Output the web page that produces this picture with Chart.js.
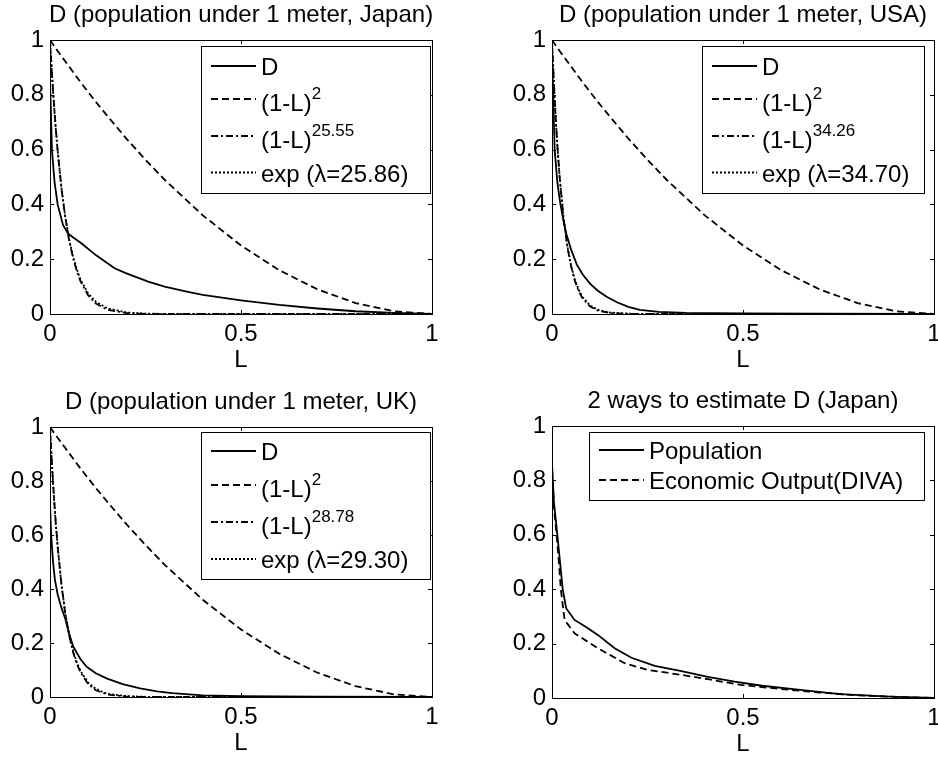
<!DOCTYPE html>
<html>
<head>
<meta charset="utf-8">
<script src="https://cdn.jsdelivr.net/npm/chart.js@4.4.0/dist/chart.umd.min.js"></script>
<style>
  html, body { margin: 0; padding: 0; background: #fff; }
  body { width: 938px; height: 759px; position: relative; overflow: hidden; }
  .panel { position: absolute; }
</style>
</head>
<body>
<div class="panel" style="left:0;top:0;width:469px;height:380px"><canvas id="jp"></canvas></div>
<div class="panel" style="left:469px;top:0;width:469px;height:380px"><canvas id="us"></canvas></div>
<div class="panel" style="left:0;top:380px;width:469px;height:379px"><canvas id="uk"></canvas></div>
<div class="panel" style="left:469px;top:380px;width:469px;height:379px"><canvas id="cmp"></canvas></div>
<script>
// ticks
const xTicks = [0, 0.5, 1];
const xTickLabels = ['0', '0.5', '1'];
const yTicks = [0, 0.2, 0.4, 0.6, 0.8, 1];
const yTickLabels = ['0', '0.2', '0.4', '0.6', '0.8', '1'];

// L values where the fitted curves were read
const fitL = [0, 0.005, 0.01, 0.015, 0.02, 0.03, 0.04, 0.05, 0.06, 0.07, 0.08, 0.1, 0.12, 0.15, 0.2, 0.25, 0.3, 0.4, 0.5, 0.6, 0.7, 0.8, 0.9, 1];
const quadD = [1, 0.99, 0.98, 0.97, 0.96, 0.941, 0.922, 0.903, 0.884, 0.865, 0.846, 0.81, 0.774, 0.723, 0.64, 0.563, 0.49, 0.36, 0.25, 0.16, 0.09, 0.04, 0.01, 0];
const jpPow = [1, 0.88, 0.774, 0.68, 0.597, 0.459, 0.352, 0.27, 0.206, 0.157, 0.119, 0.068, 0.038, 0.016, 0.0033, 0.0006, 0.0001, 0, 0, 0, 0, 0, 0, 0];
const jpExp = [1, 0.879, 0.772, 0.678, 0.596, 0.46, 0.355, 0.274, 0.212, 0.164, 0.126, 0.075, 0.045, 0.021, 0.0057, 0.0016, 0.0004, 0, 0, 0, 0, 0, 0, 0];
const usPow = [1, 0.842, 0.709, 0.596, 0.5, 0.352, 0.247, 0.173, 0.12, 0.083, 0.057, 0.027, 0.0125, 0.0038, 0.0005, 0.0001, 0, 0, 0, 0, 0, 0, 0, 0];
const usExp = [1, 0.841, 0.707, 0.594, 0.5, 0.353, 0.25, 0.176, 0.125, 0.088, 0.062, 0.031, 0.0156, 0.0055, 0.001, 0.0002, 0, 0, 0, 0, 0, 0, 0, 0];
const ukPow = [1, 0.866, 0.749, 0.647, 0.559, 0.416, 0.309, 0.228, 0.168, 0.124, 0.091, 0.048, 0.025, 0.0093, 0.0016, 0.0003, 0, 0, 0, 0, 0, 0, 0, 0];
const ukExp = [1, 0.864, 0.746, 0.644, 0.557, 0.415, 0.31, 0.231, 0.172, 0.129, 0.096, 0.053, 0.03, 0.012, 0.0029, 0.0007, 0.0002, 0, 0, 0, 0, 0, 0, 0];

// measured D curves
const jpL = [0, 0.005, 0.012, 0.02, 0.034, 0.047, 0.06, 0.082, 0.12, 0.169, 0.2, 0.257, 0.3, 0.361, 0.4, 0.5, 0.6, 0.7, 0.8, 0.9, 1];
const jpD = [0.86, 0.6, 0.48, 0.4, 0.325, 0.294, 0.28, 0.258, 0.215, 0.167, 0.148, 0.118, 0.1, 0.081, 0.07, 0.05, 0.033, 0.02, 0.01, 0.004, 0];
const usL = [0, 0.003, 0.007, 0.014, 0.021, 0.03, 0.038, 0.05, 0.065, 0.08, 0.1, 0.12, 0.143, 0.17, 0.2, 0.23, 0.28, 0.35, 0.5, 0.7, 1];
const usD = [0.95, 0.8, 0.6, 0.48, 0.41, 0.34, 0.29, 0.235, 0.18, 0.145, 0.11, 0.085, 0.063, 0.043, 0.026, 0.015, 0.008, 0.004, 0.002, 0.001, 0];
const ukL = [0, 0.003, 0.008, 0.013, 0.02, 0.03, 0.04, 0.05, 0.061, 0.08, 0.096, 0.12, 0.148, 0.19, 0.236, 0.28, 0.32, 0.4, 0.5, 0.7, 1];
const ukD = [0.72, 0.6, 0.5, 0.433, 0.38, 0.33, 0.29, 0.235, 0.186, 0.14, 0.112, 0.088, 0.069, 0.048, 0.032, 0.021, 0.014, 0.006, 0.003, 0.001, 0];
const popL = [0, 0.005, 0.014, 0.021, 0.028, 0.037, 0.059, 0.09, 0.12, 0.164, 0.208, 0.269, 0.339, 0.408, 0.478, 0.55, 0.65, 0.754, 0.885, 1];
const popD = [0.86, 0.72, 0.6, 0.5, 0.4, 0.33, 0.287, 0.26, 0.232, 0.183, 0.148, 0.118, 0.099, 0.078, 0.06, 0.045, 0.03, 0.014, 0.005, 0];
const econL = [0, 0.005, 0.012, 0.018, 0.023, 0.033, 0.059, 0.09, 0.12, 0.19, 0.251, 0.339, 0.408, 0.495, 0.6, 0.7, 0.8, 0.9, 1];
const econD = [0.84, 0.7, 0.6, 0.5, 0.4, 0.287, 0.238, 0.21, 0.183, 0.128, 0.103, 0.085, 0.069, 0.048, 0.033, 0.02, 0.01, 0.004, 0];

const FONT = '"Liberation Sans", Arial, Helvetica, sans-serif';
const LW = 1.8;
const SOLID = [], DASH = [7, 4], DASHDOT = [7, 3, 2, 3], DOT = [2, 2];

function pts(xs, ys) { return xs.map((x, i) => ({ x: x, y: ys[i] })); }

function line(label, xs, ys, dash) {
  return {
    label: label, data: pts(xs, ys), showLine: true, borderColor: '#000',
    borderWidth: LW, borderDash: dash, pointRadius: 0, fill: false, tension: 0
  };
}

// frame, inward ticks, title, x label and legend like the original figure
const matlabAxes = {
  id: 'matlabAxes',
  afterDraw(chart, args, opts) {
    const { ctx, chartArea: a } = chart;
    const xs = chart.scales.x, ys = chart.scales.y;
    ctx.save();
    ctx.strokeStyle = '#000';
    ctx.lineWidth = 1;
    ctx.setLineDash([]);
    ctx.strokeRect(a.left + 0.5, a.top + 0.5, a.right - a.left, a.bottom - a.top);
    ctx.beginPath();
    xTicks.forEach(v => {
      const p = Math.round(xs.getPixelForValue(v)) + 0.5;
      ctx.moveTo(p, a.bottom); ctx.lineTo(p, a.bottom - 4);
      ctx.moveTo(p, a.top); ctx.lineTo(p, a.top + 4);
    });
    yTicks.forEach(v => {
      const p = Math.round(ys.getPixelForValue(v)) + 0.5;
      ctx.moveTo(a.left, p); ctx.lineTo(a.left + 4, p);
      ctx.moveTo(a.right, p); ctx.lineTo(a.right - 4, p);
    });
    ctx.stroke();

    ctx.fillStyle = '#000';
    ctx.font = '24px ' + FONT;
    ctx.textAlign = 'center';
    ctx.textBaseline = 'alphabetic';
    const cx = (a.left + a.right) / 2;
    ctx.fillText(opts.title, cx, a.top - 18);
    ctx.fillText('L', cx, a.bottom + 53);

    // legend
    const lg = opts.legend;
    const bx = a.left + lg.left, by = a.top + lg.top;
    ctx.fillStyle = '#fff';
    ctx.fillRect(bx, by, lg.width, lg.height);
    ctx.strokeRect(bx + 0.5, by + 0.5, lg.width, lg.height);
    chart.data.datasets.forEach((ds, i) => {
      const ry = by + lg.rows[i];
      ctx.lineWidth = LW;
      ctx.setLineDash(ds.borderDash);
      ctx.beginPath();
      ctx.moveTo(bx + 10, ry); ctx.lineTo(bx + 55, ry);
      ctx.stroke();
      ctx.setLineDash([]);
      const parts = ds.label.split('^');
      const ty = ry + (parts.length > 1 ? 12 : lg.dy);
      ctx.fillStyle = '#000';
      ctx.textAlign = 'left';
      ctx.font = '24px ' + FONT;
      ctx.fillText(parts[0], bx + 60, ty);
      if (parts.length > 1) {
        const w = ctx.measureText(parts[0]).width;
        ctx.font = '17px ' + FONT;
        ctx.fillText(parts[1], bx + 60 + w, ty - 12);
      }
    });
    ctx.restore();
  }
};

function scales(axisW, axisH) {
  const tickFont = { family: FONT, size: 24 };
  return {
    x: {
      type: 'linear', min: 0, max: 1,
      afterBuildTicks: s => { s.ticks = xTicks.map(v => ({ value: v })); },
      afterFit: s => { s.height = axisH; s.paddingLeft = 0; s.paddingRight = 0; },
      grid: { display: false, drawTicks: false },
      border: { display: false },
      ticks: { padding: 6, color: '#000', font: tickFont, autoSkip: false, maxRotation: 0,
        callback: (v, i) => xTickLabels[i] }
    },
    y: {
      type: 'linear', min: 0, max: 1,
      afterBuildTicks: s => { s.ticks = yTicks.map(v => ({ value: v })); },
      afterFit: s => { s.width = axisW; s.paddingTop = 0; s.paddingBottom = 0; },
      grid: { display: false, drawTicks: false },
      border: { display: false },
      ticks: { padding: 6, color: '#000', font: tickFont, autoSkip: false,
        callback: (v, i) => yTickLabels[i] }
    }
  };
}

function makeChart(id, datasets, box, title, legend) {
  new Chart(document.getElementById(id), {
    type: 'scatter',
    data: { datasets: datasets },
    options: {
      responsive: true,
      maintainAspectRatio: false,
      animation: false,
      devicePixelRatio: 1,
      layout: { padding: { left: 0, bottom: 0, top: box.top, right: box.right } },
      scales: scales(box.left, box.bottom),
      plugins: {
        legend: { display: false },
        tooltip: { enabled: false },
        matlabAxes: { title: title, legend: legend }
      }
    },
    plugins: [matlabAxes]
  });
}

makeChart('jp', [
  line('D', jpL, jpD, SOLID),
  line('(1-L)^2', fitL, quadD, DASH),
  line('(1-L)^25.55', fitL, jpPow, DASHDOT),
  line('exp (\u03bb=25.86)', fitL, jpExp, DOT)
], { left: 50, top: 40, right: 37, bottom: 66 }, 'D (population under 1 meter, Japan)',
  { left: 151, top: 6, width: 229, height: 147, rows: [20, 53, 90, 126.5], dy: 9 });

makeChart('us', [
  line('D', usL, usD, SOLID),
  line('(1-L)^2', fitL, quadD, DASH),
  line('(1-L)^34.26', fitL, usPow, DASHDOT),
  line('exp (\u03bb=34.70)', fitL, usExp, DOT)
], { left: 83, top: 40, right: 4, bottom: 66 }, 'D (population under 1 meter, USA)',
  { left: 150, top: 6, width: 222, height: 147, rows: [20, 53, 90, 126.5], dy: 9 });

makeChart('uk', [
  line('D', ukL, ukD, SOLID),
  line('(1-L)^2', fitL, quadD, DASH),
  line('(1-L)^28.78', fitL, ukPow, DASHDOT),
  line('exp (\u03bb=29.30)', fitL, ukExp, DOT)
], { left: 50, top: 47, right: 37, bottom: 62 }, 'D (population under 1 meter, UK)',
  { left: 151, top: 5, width: 229, height: 147, rows: [19, 53, 90, 127], dy: 9 });

makeChart('cmp', [
  line('Population', popL, popD, SOLID),
  line('Economic Output(DIVA)', econL, econD, DASH)
], { left: 83, top: 46, right: 4, bottom: 61 }, '2 ways to estimate D (Japan)',
  { left: 37, top: 6, width: 335, height: 68, rows: [18, 48], dy: 9 });
</script>
</body>
</html>
